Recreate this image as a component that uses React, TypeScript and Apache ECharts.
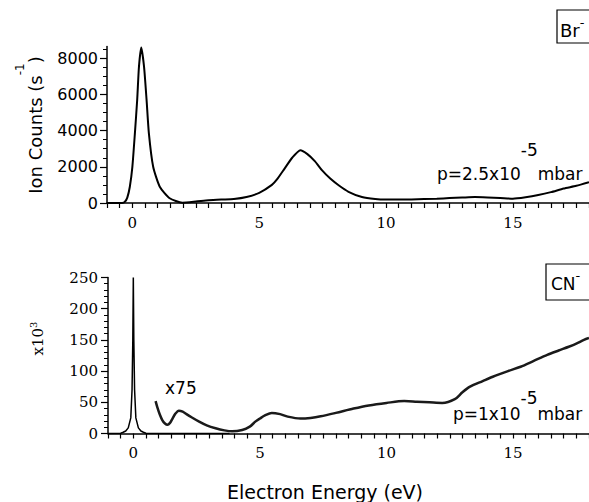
import { useEffect, useRef } from "react";
import * as echarts from "echarts";

// ---- Br- panel (top) ----
const brEnergy = [-1, -0.4, -0.3, -0.2, -0.1, 0.0, 0.1, 0.19, 0.26, 0.35, 0.46, 0.56, 0.65, 0.82, 1.08, 1.47, 1.97, 2.5, 3.0, 3.5, 4.0, 4.5, 5.0, 5.5, 5.7, 6.0, 6.3, 6.62, 6.9, 7.2, 7.48, 7.8, 8.13, 8.52, 9.05, 9.57, 10, 11, 12, 12.5, 13, 13.5, 14, 14.5, 15, 15.5, 16, 16.5, 17, 17.5, 18];
const brCounts = [0, 0, 60, 300, 900, 2000, 3860, 5700, 7540, 8600, 7540, 5700, 3860, 2000, 900, 260, 20, 80, 150, 190, 220, 330, 560, 1000, 1300, 1900, 2500, 2920, 2700, 2300, 1800, 1350, 980, 620, 330, 220, 190, 200, 240, 270, 300, 330, 310, 280, 240, 320, 440, 600, 800, 950, 1150];

// ---- CN- panel (bottom), unscaled ----
const cnEnergy = [-1, -0.5, -0.4, -0.3, -0.2, -0.1, -0.05, -0.02, 0, 0.02, 0.05, 0.1, 0.2, 0.3, 0.4, 0.5, 1.0, 2.0, 3.0, 3.8];
const cnCounts = [0, 0.5, 2, 4, 9, 25, 70, 150, 250, 150, 70, 25, 9, 4, 2, 0.5, 0, 0, 0, 0];

// ---- CN- panel, x75 scaled ----
const cnScaledEnergy = [0.88, 0.95, 1.05, 1.15, 1.25, 1.35, 1.45, 1.55, 1.65, 1.8, 1.95, 2.1, 2.3, 2.6, 2.9, 3.25, 3.6, 3.9, 4.3, 4.6, 4.82, 5.0, 5.2, 5.47, 5.8, 6.1, 6.6, 7.0, 7.4, 8.0, 8.7, 9.3, 10.0, 10.7, 11.2, 11.7, 12.2, 12.7, 13.0, 13.3, 13.8, 14.2, 14.8, 15.3, 15.8, 16.35, 16.8, 17.2, 17.5, 17.8, 18.0];
const cnScaledCounts = [52, 42, 30, 21, 16, 14, 17, 24, 31, 36.5, 35, 31, 26, 19, 13, 8.3, 5, 3.5, 5.6, 11, 19, 24, 29, 33, 31, 27, 24, 25, 27.5, 33, 40, 45, 49, 52, 51, 50, 49, 55, 66, 75, 84, 91, 100, 107, 116, 126, 133, 139, 144, 150, 153];

// ---- tick labels ----
const xLabelValues = [0, 5, 10, 15];
const xTickValues = Array.from({ length: 39 }, (_, i) => -1 + i * 0.5);
const brYLabels = [0, 2000, 4000, 6000, 8000];
const brYMinorTicks = Array.from({ length: 17 }, (_, i) => (i + 1) * 500);

const zip = (xs: number[], ys: number[]) => xs.map((x, i) => [x, ys[i]]);

const black = "#000";
const SANS = "'DejaVu Sans'";
const SERIF = "'DejaVu Serif'";

let measureCtx: CanvasRenderingContext2D | null = null;
function textWidth(text: string, size: number, family: string) {
  if (!measureCtx) measureCtx = document.createElement("canvas").getContext("2d");
  measureCtx!.font = `${size}px ${family}`;
  return measureCtx!.measureText(text).width;
}

type Piece = { text: string; size: number; dy: number };

// builds text pieces laid out left to right, with per-piece vertical offset
function pieces(parts: Piece[], family: string) {
  let x = 0;
  const children: any[] = [];
  for (const p of parts) {
    children.push({
      type: "text",
      x,
      y: p.dy,
      style: { text: p.text, font: `${p.size}px ${family}`, fill: black, align: "left", verticalAlign: "middle" },
    });
    x += textWidth(p.text, p.size, family);
  }
  return { children, width: x };
}

function labelGroup(parts: Piece[], family: string, x: number, y: number) {
  const { children } = pieces(parts, family);
  return { type: "group", x, y, children };
}

// rotated (reading bottom to top), centred at (cx, cy)
function rotatedGroup(parts: Piece[], family: string, cx: number, cy: number) {
  const { children, width } = pieces(parts, family);
  return { type: "group", x: cx, y: cy + width / 2, rotation: Math.PI / 2, children };
}

function xAxisFor(gridIndex: number) {
  return {
    type: "value",
    gridIndex,
    min: -1,
    max: 18,
    axisLine: { show: true, onZero: false, lineStyle: { color: black, width: 1.5 } },
    axisTick: { show: true, customValues: xTickValues, length: 5, lineStyle: { color: black, width: 1.2 } },
    axisLabel: { show: true, customValues: xLabelValues, fontFamily: "DejaVu Serif", fontSize: 15, color: black, margin: 12 },
    splitLine: { show: false },
  };
}

export default function App() {
  const ref = useRef<HTMLDivElement>(null);
  useEffect(() => {
    document.body.style.margin = "0";
    const chart = echarts.init(ref.current!, null, { renderer: "svg" });
    const option = {
      animation: false,
      backgroundColor: "#fff",
      grid: [
        { left: 107, top: 46.5, width: 484, height: 156.5 },
        { left: 108, top: 277.5, width: 484, height: 156 },
      ],
      xAxis: [xAxisFor(0), xAxisFor(1)],
      yAxis: [
        {
          type: "value", gridIndex: 0, min: 0, max: 8650, position: "left",
          axisLine: { show: true, onZero: false, lineStyle: { color: black, width: 1.5 } },
          axisTick: { show: true, customValues: brYLabels, length: 7, lineStyle: { color: black, width: 1.2 } },
          axisLabel: {
            show: true, customValues: brYLabels, fontFamily: "DejaVu Sans", fontSize: 16, color: black, margin: 9,
            formatter: (v: number) => String(v),
          },
          splitLine: { show: false },
        },
        {
          type: "value", gridIndex: 0, min: 0, max: 8650, position: "left", offset: 0,
          axisLine: { show: false, onZero: false },
          axisTick: { show: true, customValues: brYMinorTicks, length: 4, lineStyle: { color: black, width: 1 } },
          axisLabel: { show: false },
          splitLine: { show: false },
        },
        {
          type: "value", gridIndex: 1, min: 0, max: 250, interval: 50, position: "left",
          axisLine: { show: true, onZero: false, lineStyle: { color: black, width: 1.5 } },
          axisTick: { show: true, length: 7, lineStyle: { color: black, width: 1.2 } },
          minorTick: { show: true, splitNumber: 5, length: 4, lineStyle: { color: black, width: 1 } },
          axisLabel: { show: true, fontFamily: "DejaVu Serif", fontSize: 15, color: black, margin: 10 },
          splitLine: { show: false },
          minorSplitLine: { show: false },
        },
      ],
      series: [
        {
          type: "line", xAxisIndex: 0, yAxisIndex: 0, data: zip(brEnergy, brCounts),
          symbol: "none", smooth: 0.2, lineStyle: { color: black, width: 2 }, silent: true,
        },
        {
          type: "line", xAxisIndex: 1, yAxisIndex: 2, data: zip(cnEnergy, cnCounts),
          symbol: "none", lineStyle: { color: black, width: 1.5 }, silent: true,
        },
        {
          type: "line", xAxisIndex: 1, yAxisIndex: 2, data: zip(cnScaledEnergy, cnScaledCounts),
          symbol: "none", smooth: 0.3, lineStyle: { color: "#1a1a1a", width: 2.5 }, silent: true,
        },
      ],
      graphic: [
        rotatedGroup(
          [
            { text: "Ion Counts (s", size: 18, dy: 0 },
            { text: "-1", size: 12, dy: -15 },
            { text: ")", size: 18, dy: 0 },
          ],
          SANS, 35, 125,
        ),
        rotatedGroup(
          [
            { text: "x10", size: 15, dy: 0 },
            { text: "3", size: 10, dy: -5 },
          ],
          SERIF, 38, 338.5,
        ),
        { type: "rect", shape: { x: 557, y: 10, width: 50, height: 33 }, style: { fill: "none", stroke: black, lineWidth: 1.2 } },
        labelGroup(
          [
            { text: "Br", size: 18, dy: 0 },
            { text: "-", size: 13, dy: -8 },
          ],
          SANS, 560, 30,
        ),
        { type: "rect", shape: { x: 546, y: 264, width: 50, height: 36 }, style: { fill: "none", stroke: black, lineWidth: 1.2 } },
        labelGroup(
          [
            { text: "CN", size: 17, dy: 0 },
            { text: "-", size: 13, dy: -9 },
          ],
          SANS, 551, 284,
        ),
        labelGroup(
          [
            { text: "p=2.5x10", size: 17, dy: 0 },
            { text: "-5", size: 17, dy: -24 },
            { text: "mbar", size: 17, dy: 0 },
          ],
          SANS, 437, 174,
        ),
        labelGroup(
          [
            { text: "p=1x10", size: 17, dy: 0 },
            { text: "-5", size: 17, dy: -16 },
            { text: "mbar", size: 17, dy: 0 },
          ],
          SANS, 453, 413.5,
        ),
        {
          type: "text", x: 165, y: 388,
          style: { text: "x75", font: `17px ${SANS}`, fill: black, align: "left", verticalAlign: "middle" },
        },
        {
          type: "text", x: 325, y: 492,
          style: { text: "Electron Energy (eV)", font: `19px ${SANS}`, fill: black, align: "center", verticalAlign: "middle" },
        },
      ],
    };
    chart.setOption(option as any);
    return () => chart.dispose();
  }, []);
  return (
    <div
      ref={ref}
      style={{ position: "fixed", left: 0, top: 0, width: 589, height: 502, background: "#fff" }}
    />
  );
}
